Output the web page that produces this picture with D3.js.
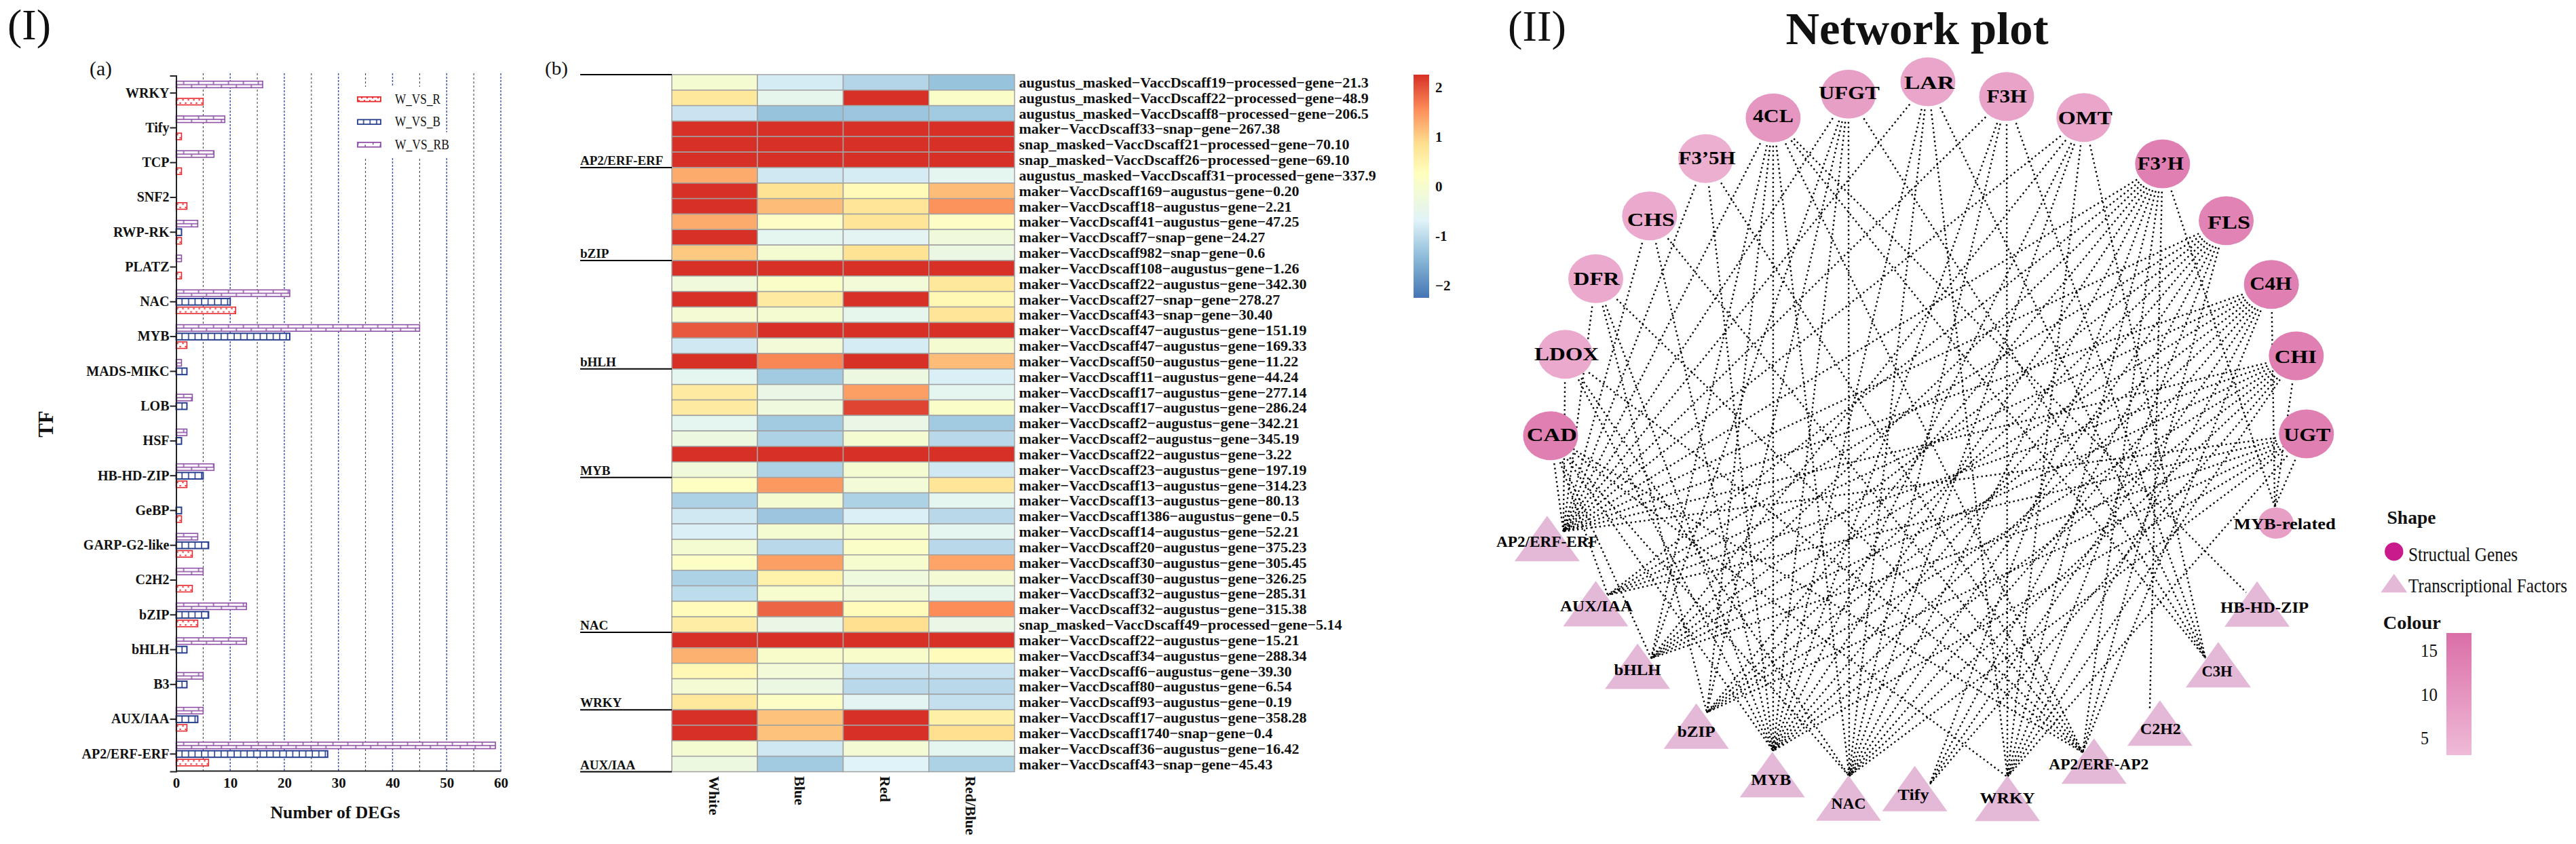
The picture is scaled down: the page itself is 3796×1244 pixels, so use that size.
<!DOCTYPE html>
<html>
<head>
<meta charset="utf-8">
<script src="https://cdn.jsdelivr.net/npm/d3@7/dist/d3.min.js"></script>
<style>
html,body{margin:0;padding:0;background:#fff;}
svg{display:block;}
text{font-family:"Liberation Serif",serif;fill:#111;}
</style>
</head>
<body>
<div id="chart"></div>
<script>
// ---------- panel (a) data ----------
const tfCategories = ["WRKY","Tify","TCP","SNF2","RWP-RK","PLATZ","NAC","MYB","MADS-MIKC","LOB","HSF","HB-HD-ZIP","GeBP","GARP-G2-like","C2H2","bZIP","bHLH","B3","AUX/IAA","AP2/ERF-ERF"];
const seriesNames = ["W_VS_R","W_VS_B","W_VS_RB"];
const valuesWvsR  = [5,1,1,2,1,1,11,2,0,0,0,2,1,3,3,4,0,0,2,6];
const valuesWvsB  = [0,0,0,0,1,0,10,21,2,2,1,5,1,6,0,6,2,2,4,28];
const valuesWvsRB = [16,9,7,0,4,1,21,45,1,3,2,7,0,4,5,13,13,5,5,59];
const degTicks = [0,10,20,30,40,50,60];
const degGrid = [5,10,15,20,25,30,35,40,45,50,55,60];

// ---------- panel (b) data ----------
const heatColumns = ["White","Blue","Red","Red/Blue"];
const heatRows = [
"augustus_masked−VaccDscaff19−processed−gene−21.3","augustus_masked−VaccDscaff22−processed−gene−48.9","augustus_masked−VaccDscaff8−processed−gene−206.5",
"maker−VaccDscaff33−snap−gene−267.38","snap_masked−VaccDscaff21−processed−gene−70.10","snap_masked−VaccDscaff26−processed−gene−69.10",
"augustus_masked−VaccDscaff31−processed−gene−337.9","maker−VaccDscaff169−augustus−gene−0.20","maker−VaccDscaff18−augustus−gene−2.21",
"maker−VaccDscaff41−augustus−gene−47.25","maker−VaccDscaff7−snap−gene−24.27","maker−VaccDscaff982−snap−gene−0.6",
"maker−VaccDscaff108−augustus−gene−1.26","maker−VaccDscaff22−augustus−gene−342.30","maker−VaccDscaff27−snap−gene−278.27",
"maker−VaccDscaff43−snap−gene−30.40","maker−VaccDscaff47−augustus−gene−151.19","maker−VaccDscaff47−augustus−gene−169.33",
"maker−VaccDscaff50−augustus−gene−11.22","maker−VaccDscaff11−augustus−gene−44.24","maker−VaccDscaff17−augustus−gene−277.14",
"maker−VaccDscaff17−augustus−gene−286.24","maker−VaccDscaff2−augustus−gene−342.21","maker−VaccDscaff2−augustus−gene−345.19",
"maker−VaccDscaff22−augustus−gene−3.22","maker−VaccDscaff23−augustus−gene−197.19","maker−VaccDscaff13−augustus−gene−314.23",
"maker−VaccDscaff13−augustus−gene−80.13","maker−VaccDscaff1386−augustus−gene−0.5","maker−VaccDscaff14−augustus−gene−52.21",
"maker−VaccDscaff20−augustus−gene−375.23","maker−VaccDscaff30−augustus−gene−305.45","maker−VaccDscaff30−augustus−gene−326.25",
"maker−VaccDscaff32−augustus−gene−285.31","maker−VaccDscaff32−augustus−gene−315.38","snap_masked−VaccDscaff49−processed−gene−5.14",
"maker−VaccDscaff22−augustus−gene−15.21","maker−VaccDscaff34−augustus−gene−288.34","maker−VaccDscaff6−augustus−gene−39.30",
"maker−VaccDscaff80−augustus−gene−6.54","maker−VaccDscaff93−augustus−gene−0.19","maker−VaccDscaff17−augustus−gene−358.28",
"maker−VaccDscaff1740−snap−gene−0.4","maker−VaccDscaff36−augustus−gene−16.42","maker−VaccDscaff43−snap−gene−45.43"];
const heatValues = [
[-0.05,-0.8,-1.1,-1.35],[0.7,-0.5,2.25,0.1],[-0.9,-1.35,-1.3,-1.25],[2.25,2.25,2.25,2.25],[2.25,2.25,2.25,2.25],[2.25,2.25,2.25,2.25],
[1.3,-0.85,-0.8,-0.55],[2.25,0.8,0.35,1.15],[2.25,1.15,0.75,1.5],[1.3,0.15,0.75,0.15],[2.25,-0.55,-0.6,-0.2],[1.05,-0.05,0.8,-0.35],
[2.25,2.25,2.25,2.25],[-0.2,0.1,-0.15,0.7],[2.25,0.65,2.25,0.4],[-0.1,-0.05,-0.5,0.75],[1.95,2.25,2.25,2.25],[-0.85,-0.15,-0.8,-0.05],
[2.25,1.6,2.25,1.15],[-0.55,-1.25,-0.3,-0.75],[0.65,-0.4,1.4,-0.55],[0.65,-0.25,2.1,0.1],[-0.55,-1.25,-0.4,-1.25],[-0.3,-1.15,-0.05,-1.05],
[2.25,2.25,2.25,2.25],[-0.2,-1.15,-0.05,-0.85],[0.2,1.45,-0.15,0.75],[-1.15,-0.05,-1.15,-0.55],[-0.85,-1.3,-0.75,-1.05],[-0.75,-0.05,0,-0.55],
[-0.05,-1.05,0.1,-1.05],[0.15,1.4,0,1.35],[-1.15,0.5,-0.25,-0.1],[-1,0,-0.15,-0.5],[0.3,1.85,0.3,1.55],[0.6,-0.4,0.85,-0.4],
[2.25,2.25,2.25,2.25],[1.25,0.05,0.05,0.3],[0.4,-0.15,-0.9,-0.9],[-0.1,-0.35,-1.05,-1.05],[0.7,0.15,-0.6,-0.95],[2.25,1.1,2.25,0.55],
[2.25,1.1,2.25,0.85],[-0.05,-0.85,-0.1,-0.55],[-0.3,-1.25,-0.7,-1.15]];
const annotNames = ["AP2/ERF-ERF","bZIP","bHLH","MYB","NAC","WRKY","AUX/IAA"];
const annotLastRow = [6,12,19,26,36,41,45];
const heatPalette = ["#4575B4","#91BFDB","#E0F3F8","#FFFFBF","#FEE090","#FC8D59","#D73027"];
const heatStops = [-2.26,-1.4,-0.7,0.25,0.85,1.55,2.25];
const heatTicks = [2,1,0,-1,-2];
const heatTickText = ["2","1","0","-1","−2"];

// ---------- panel (II) data ----------
const geneNames = ["LAR","F3H","OMT","F3’H","FLS","C4H","CHI","UGT","CAD","LDOX","DFR","CHS","F3’5H","4CL","UFGT"];
const geneU = [0,0.209,0.414,0.623,0.792,0.912,0.978,1.005,-1.002,-0.963,-0.882,-0.739,-0.59,-0.411,-0.211];
const geneV = [-0.981,-0.942,-0.886,-0.763,-0.612,-0.443,-0.253,-0.046,-0.041,-0.257,-0.458,-0.625,-0.777,-0.885,-0.948];
const geneColour = [7,7.5,7,14,13,14,14,14,14,6,6,6,5,9.5,8];
const tfNames = ["MYB-related","HB-HD-ZIP","C3H","C2H2","AP2/ERF-AP2","WRKY","Tify","NAC","MYB","bZIP","bHLH","AUX/IAA","AP2/ERF-ERF"];
const tfU = [0.924,0.874,0.771,0.616,0.441,0.211,-0.035,-0.211,-0.413,-0.615,-0.771,-0.882,-1.011];
const tfV = [0.191,0.406,0.567,0.722,0.823,0.922,0.896,0.921,0.859,0.730,0.571,0.405,0.232];
const tfPortU = [0.921,0.845,0.737,0.589,0.411,0.211,0.004,-0.209,-0.411,-0.587,-0.735,-0.850,-0.968];
const tfPortV = [0.148,0.375,0.550,0.685,0.800,0.865,0.886,0.863,0.796,0.694,0.550,0.382,0.213];
const edgeLists = {
"LAR":["AP2/ERF-ERF","MYB","NAC","WRKY","C3H"],
"F3H":["AP2/ERF-ERF","MYB","NAC","WRKY","C3H"],
"OMT":["AP2/ERF-ERF","bHLH","MYB","NAC","WRKY","C3H"],
"F3’H":["AP2/ERF-ERF","AUX/IAA","bHLH","bZIP","MYB","NAC","Tify","WRKY","AP2/ERF-AP2","C2H2","MYB-related"],
"FLS":["AP2/ERF-ERF","AUX/IAA","bHLH","bZIP","MYB","NAC","Tify","WRKY","AP2/ERF-AP2"],
"C4H":["AP2/ERF-ERF","AUX/IAA","bHLH","bZIP","MYB","NAC","Tify","WRKY","AP2/ERF-AP2","MYB-related"],
"CHI":["AP2/ERF-ERF","AUX/IAA","bHLH","bZIP","MYB","NAC","Tify","WRKY","MYB-related"],
"UGT":["AP2/ERF-ERF","AUX/IAA","bHLH","bZIP","MYB","NAC","WRKY","MYB-related"],
"UFGT":["AP2/ERF-ERF","bHLH","bZIP","MYB","NAC","C3H"],
"4CL":["AP2/ERF-ERF","bHLH","bZIP","MYB","NAC","AP2/ERF-AP2","C3H","HB-HD-ZIP"],
"F3’5H":["AP2/ERF-ERF","MYB","AP2/ERF-AP2"],
"CHS":["AP2/ERF-ERF","MYB","AP2/ERF-AP2"],
"DFR":["AP2/ERF-ERF","bZIP","MYB","AP2/ERF-AP2"],
"LDOX":["AP2/ERF-ERF","MYB","NAC","AP2/ERF-AP2"],
"CAD":["AP2/ERF-ERF","AUX/IAA","bHLH","MYB","NAC","WRKY","AP2/ERF-AP2"]
};
const colourTicks = [15,10,5];

// ---------- drawing ----------
const W = 3796, H = 1244;
const SERIF = '"Liberation Serif",serif';
const svg = d3.select("#chart").append("svg").attr("width",W).attr("height",H).attr("viewBox",`0 0 ${W} ${H}`);
const defs = svg.append("defs");

// text helper: width squeezes or stretches glyphs to the measured width
function label(g, str, x, y, o={}) {
  const t = g.append("text").attr("x",x).attr("y",y).text(str)
    .attr("font-size",o.size||20).attr("font-weight",o.bold?"bold":"normal")
    .attr("text-anchor",o.anchor||"start");
  if (o.fill) t.style("fill",o.fill);
  if (o.transform) t.attr("transform",o.transform);
  if (o.width) t.attr("textLength",o.width).attr("lengthAdjust","spacingAndGlyphs");
  return t;
}

label(svg,"(I)",11,58,{size:64,width:64});
label(svg,"(II)",2222,60,{size:64,width:86});
label(svg,"(a)",132,111,{size:30,width:33});
label(svg,"(b)",803,110,{size:28,width:34});

// ===== panel (a) =====
const barX = d3.scaleLinear().domain([0,60]).range([259.5,738]);
const barY = d3.scaleBand().domain(tfCategories).range([111.5,1137]).paddingInner(0).paddingOuter(0);
const subY = d3.scaleBand().domain(["W_VS_RB","W_VS_B","W_VS_R"]).range([-20.5,20.5]).padding(0.24);
const seriesColour = {"W_VS_R":"#E8282C","W_VS_B":"#263F8E","W_VS_RB":"#8E50A6"};
const seriesValues = {"W_VS_R":valuesWvsR,"W_VS_B":valuesWvsB,"W_VS_RB":valuesWvsRB};

const pR = defs.append("pattern").attr("id","hR").attr("patternUnits","userSpaceOnUse").attr("width",8).attr("height",9);
pR.append("rect").attr("width",8).attr("height",9).attr("fill","#fff");
pR.append("rect").attr("x",1).attr("y",1.2).attr("width",2.2).attr("height",2).attr("fill","#E8282C");
pR.append("rect").attr("x",5).attr("y",6).attr("width",2.2).attr("height",2).attr("fill","#E8282C");
const pB = defs.append("pattern").attr("id","hB").attr("patternUnits","userSpaceOnUse").attr("width",9.6).attr("height",9);
pB.append("rect").attr("width",9.6).attr("height",9).attr("fill","#fff");
pB.append("rect").attr("x",8).attr("width",2).attr("height",9).attr("fill","#263F8E");
const pP = defs.append("pattern").attr("id","hP").attr("patternUnits","userSpaceOnUse").attr("width",22).attr("height",10);
pP.append("rect").attr("width",22).attr("height",10).attr("fill","#fff");
pP.append("rect").attr("y",4.2).attr("width",22).attr("height",1.6).attr("fill","#8E50A6");
pP.append("rect").attr("x",10.5).attr("y",0).attr("width",1.5).attr("height",5).attr("fill","#8E50A6");
pP.append("rect").attr("x",0).attr("y",5).attr("width",1.5).attr("height",5).attr("fill","#8E50A6");
const seriesPat = {"W_VS_R":"url(#hR)","W_VS_B":"url(#hB)","W_VS_RB":"url(#hP)"};

const gridG = svg.append("g");
gridG.selectAll("line").data(degGrid).join("line")
  .attr("x1",d=>barX(d)).attr("x2",d=>barX(d)).attr("y1",108).attr("y2",1136)
  .attr("stroke",d=>d%10===0?"#3C55A8":"#333")
  .attr("stroke-width",d=>d%10===0?1.4:1)
  .attr("stroke-dasharray",d=>d%10===0?"3 2":"3 3");

// legend masks the grid
svg.append("rect").attr("x",506).attr("y",128).attr("width",144).attr("height",104).attr("fill","#fff");
svg.append("rect").attr("x",506).attr("y",195).attr("width",156).attr("height",37).attr("fill","#fff");

const barData = [];
seriesNames.forEach(s=>tfCategories.forEach((c,i)=>{ if(seriesValues[s][i]>0) barData.push({s,c,v:seriesValues[s][i]}); }));
const barG = svg.append("g").selectAll("g").data(barData).join("g")
  .attr("transform",d=>`translate(${barX(0)},${barY(d.c)+barY.bandwidth()/2+subY(d.s)})`);
barG.append("rect").attr("width",d=>barX(d.v)-barX(0)).attr("height",subY.bandwidth())
  .attr("fill",d=>seriesPat[d.s]).attr("stroke",d=>seriesColour[d.s]).attr("stroke-width",d=>d.s==="W_VS_B"?2:1.6);

const yAxis = svg.append("g").attr("transform",`translate(${barX(0)},0)`)
  .call(d3.axisLeft(barY).tickSize(9).tickPadding(1));
yAxis.select(".domain").attr("stroke","#222").attr("stroke-width",2);
yAxis.selectAll(".tick line").attr("stroke","#222").attr("stroke-width",2);
yAxis.selectAll("text").attr("font-size",20).attr("font-weight","bold").attr("font-family",SERIF).style("fill","#111");

const xAxis = svg.append("g").attr("transform","translate(0,1136)")
  .call(d3.axisBottom(barX).tickValues(degTicks).tickSize(0).tickPadding(10));
xAxis.select(".domain").attr("stroke","#222").attr("stroke-width",2);
xAxis.selectAll("text").attr("font-size",21).attr("font-weight","bold").attr("font-family",SERIF).style("fill","#111");

label(svg,"Number of DEGs",494,1206,{size:25,bold:true,anchor:"middle",width:191});
label(svg,"TF",0,0,{size:31,bold:true,anchor:"middle",transform:"translate(78,625) rotate(-90)"});

const legY = d3.scaleBand().domain(seriesNames).range([129.5,230]);
const legG = svg.append("g").selectAll("g").data(seriesNames).join("g")
  .attr("transform",d=>`translate(527,${legY(d)+legY.bandwidth()/2})`);
legG.append("rect").attr("y",-3.4).attr("width",34).attr("height",6.8)
  .attr("fill",d=>seriesPat[d]).attr("stroke",d=>seriesColour[d]).attr("stroke-width",1.8);
legG.each(function(d){
  label(d3.select(this),d,55,6.5,{size:20,bold:false,width:d==="W_VS_RB"?80:67});
});

// ===== panel (b) =====
const heatX = d3.scaleBand().domain(heatColumns).range([990,1495]);
const heatY = d3.scaleBand().domain(heatRows.map((d,i)=>i)).range([110,1137.5]);
const heatColour = d3.scaleLinear().domain(heatStops).range(heatPalette).clamp(true);
const cellData = heatValues.flatMap((row,i)=>row.map((v,j)=>({i,c:heatColumns[j],v})));
svg.append("g").selectAll("rect").data(cellData).join("rect")
  .attr("x",d=>heatX(d.c)).attr("y",d=>heatY(d.i))
  .attr("width",heatX.bandwidth()).attr("height",heatY.bandwidth())
  .attr("fill",d=>heatColour(d.v)).attr("stroke","#A2A2A2").attr("stroke-width",1.5);
svg.append("g").selectAll("text").data(heatRows).join("text")
  .attr("x",1501.5).attr("y",(d,i)=>heatY(i)+heatY.bandwidth()/2).attr("dy","0.34em")
  .attr("font-size",22).attr("font-weight","bold").text(d=>d);
svg.append("g").selectAll("text").data(heatColumns).join("text")
  .attr("transform",d=>`translate(${heatX(d)+heatX.bandwidth()/2-1},1144) rotate(90)`)
  .attr("font-size",22).attr("font-weight","bold").attr("dy","0.34em").text(d=>d);

// annotation rules
const annotG = svg.append("g");
annotG.append("line").attr("x1",855).attr("x2",990).attr("y1",heatY(0)).attr("y2",heatY(0)).attr("stroke","#000").attr("stroke-width",2);
annotNames.forEach((n,k)=>{
  const y = heatY(0)+annotLastRow[k]*heatY.step();
  annotG.append("line").attr("x1",855).attr("x2",990).attr("y1",y).attr("y2",y).attr("stroke","#000").attr("stroke-width",2);
  label(annotG,n,855,y-4,{size:19,bold:true});
});

// colour bar
const heatScaleY = d3.scaleLinear().domain([-2.26,2.25]).range([439,110]);
const gradH = defs.append("linearGradient").attr("id","gHeat").attr("x1",0).attr("x2",0).attr("y1",1).attr("y2",0);
heatStops.forEach((s,i)=>gradH.append("stop").attr("offset",(s-heatStops[0])/(heatStops[6]-heatStops[0])).attr("stop-color",heatPalette[i]));
svg.append("rect").attr("x",2083).attr("y",110).attr("width",23).attr("height",329).attr("fill","url(#gHeat)");
svg.append("g").selectAll("text").data(heatTicks).join("text")
  .attr("x",2115).attr("y",d=>heatScaleY(d)).attr("dy","0.36em")
  .attr("font-size",21).attr("font-weight","bold").text((d,i)=>heatTickText[i]);

// ===== panel (II) =====
label(svg,"Network plot",2825,65,{size:68,bold:true,anchor:"middle",width:387});
const netX = d3.scaleLinear().domain([-1,1]).range([2286,3396]);
const netY = d3.scaleLinear().domain([-1,1]).range([110,1220]);
const nodeColour = d3.scaleLinear().domain([3,17]).range(["#EFBAD7","#DB6FA8"]);
const RX = 40.5, RY = 36;
const genes = geneNames.map((n,i)=>({n,x:netX(geneU[i]),y:netY(geneV[i]),c:geneColour[i]}));
const tfs = tfNames.map((n,i)=>({n,x:netX(tfU[i]),y:netY(tfV[i]),px:netX(tfPortU[i]),py:netY(tfPortV[i])}));
const tfByName = new Map(tfs.map(t=>[t.n,t]));

const edgeData = [];
genes.forEach(g=>(edgeLists[g.n]||[]).forEach(tn=>{
  const t = tfByName.get(tn), dx=t.px-g.x, dy=t.py-g.y;
  const len = Math.hypot(dx,dy), k = 1/Math.hypot(dx/RX,dy/RY);   // fraction of the edge inside the ellipse
  edgeData.push({x1:g.x+dx*(k+5/len),y1:g.y+dy*(k+5/len),x2:t.px,y2:t.py});
}));
svg.append("g").selectAll("line").data(edgeData).join("line")
  .attr("x1",d=>d.x1).attr("y1",d=>d.y1).attr("x2",d=>d.x2).attr("y2",d=>d.y2)
  .attr("stroke","#000").attr("stroke-width",2.4).attr("stroke-dasharray","2.4 4.2");

const triColour = "#E4B9D8", triW = 96, triH = 67;
const triPath = (w,h)=>{const p=d3.path();p.moveTo(0,-h/2);p.lineTo(w/2,h/2);p.lineTo(-w/2,h/2);p.closePath();return p.toString();};

const geneG = svg.append("g").selectAll("ellipse").data(genes).join("ellipse")
  .attr("cx",d=>d.x).attr("cy",d=>d.y).attr("rx",RX).attr("ry",RY).attr("fill",d=>nodeColour(d.c));
const tfShapes = svg.append("g").selectAll("path").data(tfs.filter(t=>t.n!=="MYB-related")).join("path")
  .attr("transform",d=>`translate(${d.x},${d.y})`).attr("d",triPath(triW,triH)).attr("fill",triColour);
const mr = tfByName.get("MYB-related");
svg.append("ellipse").attr("cx",mr.x).attr("cy",mr.y).attr("rx",26).attr("ry",23).attr("fill",nodeColour(8));

// label metrics: [dx, dy, width]
const geneLabelFit = {"LAR":[2,1,74],"F3H":[0,0,59],"OMT":[2,0,80],"F3’H":[-3,-1,68],"FLS":[4,2,63],"C4H":[-1,-1,62],"CHI":[-1,1,62],"UGT":[1,1,69],
 "CAD":[2,-1,74],"LDOX":[2,-1,95],"DFR":[1,0,68],"CHS":[2,6,70],"F3’5H":[2,-1,84],"4CL":[0,-3,60],"UFGT":[1,-2,90]};
const tfLabelFit = {"MYB-related":[13,1,150],"HB-HD-ZIP":[11,5,130],"C3H":[-2,10,45],"C2H2":[1,9,60],"AP2/ERF-AP2":[7,5,147],"WRKY":[0,0,81],"Tify":[-2,9,46],
 "NAC":[0,8,51],"MYB":[-2,8,59],"bZIP":[0,8,56],"bHLH":[0,6,69],"AUX/IAA":[1,4,107],"AP2/ERF-ERF":[0,5,150]};
const nodeLabels = svg.append("g");
genes.forEach(g=>{const f=geneLabelFit[g.n];
  label(nodeLabels,g.n,g.x+f[0],g.y+f[1],{size:28,bold:true,anchor:"middle",width:f[2]}).attr("dy","0.33em").style("fill","#000");});
tfs.forEach(t=>{const f=tfLabelFit[t.n];
  label(nodeLabels,t.n,t.x+f[0],t.y+f[1],{size:23,bold:true,anchor:"middle",width:f[2]}).attr("dy","0.33em").style("fill","#000");});

// legends
label(svg,"Shape",3517.5,772,{size:28,bold:true,width:72});
svg.append("ellipse").attr("cx",3527.8).attr("cy",813).attr("rx",13.7).attr("ry",13.5).attr("fill","#C91B8B");
label(svg,"Structual Genes",3549,827,{size:30,width:161});
svg.append("path").attr("transform","translate(3527.8,859.5)").attr("d",triPath(39,27.5)).attr("fill",triColour);
label(svg,"Transcriptional Factors",3549,873,{size:30,width:234});
label(svg,"Colour",3511.8,927,{size:28,bold:true,width:85});

const colourY = d3.scaleLinear().domain([3,17]).range([1113,933]);
const gradC = defs.append("linearGradient").attr("id","gCol").attr("x1",0).attr("x2",0).attr("y1",1).attr("y2",0);
gradC.append("stop").attr("offset",0).attr("stop-color",nodeColour(3));
gradC.append("stop").attr("offset",1).attr("stop-color",nodeColour(17));
svg.append("rect").attr("x",3605).attr("y",933).attr("width",37).attr("height",180).attr("fill","url(#gCol)");
svg.append("g").selectAll("text").data(colourTicks).join("text")
  .attr("x",3567).attr("y",d=>colourY(d)).attr("dy","0.34em")
  .attr("font-size",28).attr("textLength",d=>d>=10?25:12).attr("lengthAdjust","spacingAndGlyphs").text(d=>d);
</script>
</body>
</html>
